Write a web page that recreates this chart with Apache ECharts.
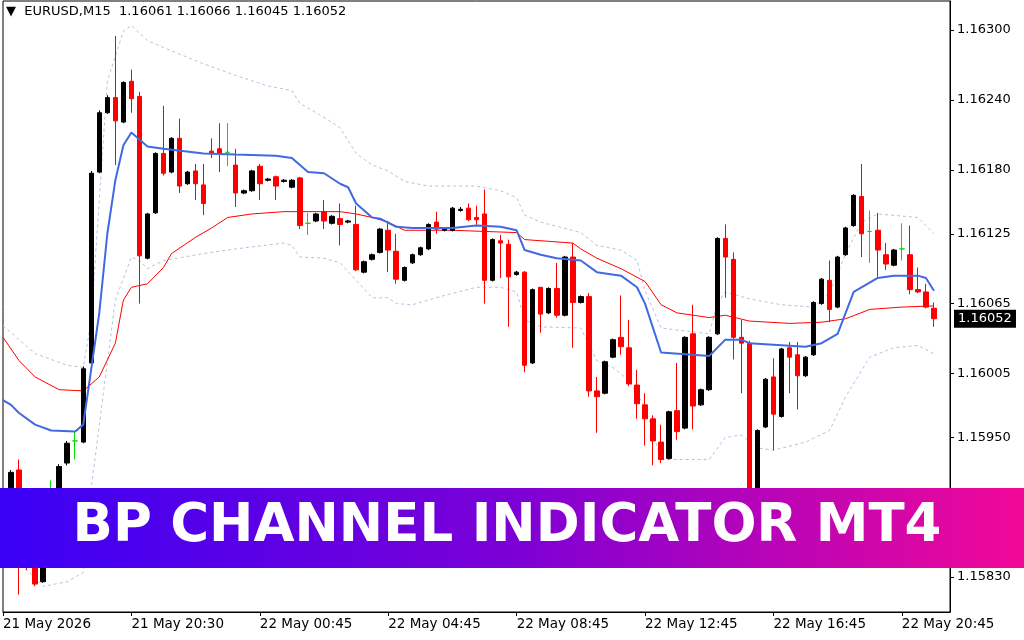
<!DOCTYPE html>
<html><head><meta charset="utf-8">
<script src="https://cdn.jsdelivr.net/npm/echarts@6/dist/echarts.min.js"></script>
<style>html,body{margin:0;padding:0;background:#fff}#c{width:1024px;height:640px}</style>
</head><body><div id="c"></div>
<script>
// candles: [open, close, low, high], bars 1..116 (bar 0 empty)
const candles = [
[1.15896,1.15920,1.15892,1.15922],[1.15922,1.15858,1.15815,1.15931],[1.15858,1.15845,1.15836,1.15862],
[1.15845,1.15824,1.15822,1.15853],[1.15826,1.15862,1.15825,1.15866],[1.15888,1.15888,1.15871,1.15913],
[1.15896,1.15925,1.15892,1.15927],[1.15928,1.15945,1.15926,1.15947],[1.15947,1.15947,1.15931,1.15955],
[1.15946,1.16009,1.15945,1.16011],[1.16014,1.16177,1.16012,1.16179],[1.16178,1.16229,1.16177,1.16231],
[1.16229,1.16242,1.16228,1.16244],[1.16242,1.16222,1.16184,1.16295],[1.16221,1.16255,1.16220,1.16256],
[1.16256,1.16241,1.16229,1.16266],[1.16243,1.16106,1.16065,1.16247],[1.16104,1.16142,1.16103,1.16143],
[1.16143,1.16194,1.16142,1.16195],[1.16194,1.16177,1.16175,1.16235],[1.16178,1.16207,1.16177,1.16208],
[1.16207,1.16166,1.16160,1.16224],[1.16168,1.16178,1.16167,1.16179],[1.16179,1.16168,1.16154,1.16185],
[1.16167,1.16151,1.16141,1.16185],[1.16196,1.16194,1.16190,1.16207],[1.16198,1.16194,1.16178,1.16220],
[1.16195,1.16195,1.16183,1.16220],[1.16184,1.16160,1.16148,1.16198],[1.16160,1.16162,1.16159,1.16163],
[1.16162,1.16179,1.16161,1.16180],[1.16183,1.16168,1.16154,1.16185],[1.16171,1.16172,1.16170,1.16173],
[1.16174,1.16166,1.16154,1.16175],[1.16170,1.16171,1.16169,1.16172],[1.16165,1.16171,1.16164,1.16172],
[1.16173,1.16132,1.16129,1.16174],[1.16134,1.16134,1.16124,1.16143],[1.16136,1.16142,1.16135,1.16143],
[1.16144,1.16136,1.16129,1.16154],[1.16134,1.16140,1.16133,1.16141],[1.16138,1.16133,1.16115,1.16151],
[1.16135,1.16136,1.16134,1.16137],[1.16133,1.16094,1.16093,1.16149],[1.16092,1.16101,1.16091,1.16102],
[1.16103,1.16107,1.16102,1.16108],[1.16109,1.16129,1.16108,1.16130],[1.16128,1.16111,1.16092,1.16136],
[1.16110,1.16086,1.16082,1.16125],[1.16085,1.16096,1.16084,1.16097],[1.16100,1.16107,1.16099,1.16108],
[1.16107,1.16113,1.16106,1.16114],[1.16112,1.16133,1.16111,1.16134],[1.16135,1.16129,1.16125,1.16144],
[1.16128,1.16129,1.16127,1.16130],[1.16128,1.16147,1.16127,1.16148],[1.16145,1.16146,1.16144,1.16148],
[1.16147,1.16137,1.16136,1.16151],[1.16139,1.16137,1.16132,1.16149],[1.16142,1.16085,1.16065,1.16163],
[1.16085,1.16120,1.16084,1.16121],[1.16119,1.16117,1.16087,1.16124],[1.16116,1.16088,1.16045,1.16120],
[1.16090,1.16092,1.16089,1.16093],[1.16092,1.16012,1.16006,1.16093],[1.16014,1.16077,1.16013,1.16078],
[1.16079,1.16056,1.16040,1.16079],[1.16057,1.16078,1.16056,1.16079],[1.16078,1.16055,1.16053,1.16100],
[1.16055,1.16105,1.16054,1.16106],[1.16105,1.16066,1.16027,1.16117],[1.16066,1.16071,1.16065,1.16072],
[1.16071,1.15990,1.15985,1.16074],[1.15990,1.15985,1.15954,1.16002],[1.15988,1.16015,1.15987,1.16016],
[1.16019,1.16034,1.16018,1.16035],[1.16036,1.16028,1.16021,1.16072],[1.16027,1.15996,1.15994,1.16051],
[1.15995,1.15979,1.15966,1.16008],[1.15978,1.15966,1.15943,1.15988],[1.15966,1.15947,1.15926,1.15969],
[1.15946,1.15931,1.15928,1.15961],[1.15932,1.15972,1.15931,1.15973],[1.15973,1.15955,1.15948,1.16014],
[1.15958,1.16036,1.15957,1.16037],[1.16039,1.15977,1.15957,1.16064],[1.15978,1.15991,1.15977,1.15992],
[1.15991,1.16036,1.15990,1.16037],[1.16039,1.16121,1.16038,1.16122],[1.16121,1.16105,1.16070,1.16133],
[1.16103,1.16036,1.16017,1.16109],[1.16036,1.16031,1.15988,1.16051],[1.16031,1.15883,1.15875,1.16033],
[1.15900,1.15956,1.15896,1.15957],[1.15959,1.16000,1.15958,1.16001],[1.16002,1.15970,1.15939,1.16018],
[1.15968,1.16026,1.15967,1.16027],[1.16027,1.16019,1.15988,1.16032],[1.16021,1.16003,1.15974,1.16032],
[1.16003,1.16019,1.16002,1.16020],[1.16021,1.16066,1.16020,1.16067],[1.16065,1.16086,1.16064,1.16087],
[1.16085,1.16060,1.16049,1.16102],[1.16062,1.16105,1.16061,1.16106],[1.16107,1.16130,1.16106,1.16131],
[1.16132,1.16158,1.16131,1.16159],[1.16157,1.16125,1.16105,1.16185],[1.16127,1.16127,1.16100,1.16145],
[1.16128,1.16111,1.16088,1.16143],[1.16107,1.16099,1.16094,1.16117],[1.16098,1.16111,1.16097,1.16112],
[1.16112,1.16112,1.16102,1.16134],[1.16107,1.16077,1.16073,1.16132],[1.16077,1.16075,1.16074,1.16096],
[1.16075,1.16062,1.16061,1.16082],[1.16061,1.16052,1.16045,1.16066]
];
// indicator lines: [bar index, price]
const fastLine = [[0,1.15982],[1,1.15978],[2,1.15971],[4,1.15961],[6,1.15956],[9,1.15955],[10,1.15961],[12,1.16057],[13,1.16125],[14,1.16171],[15,1.16201],[16,1.16212],[18,1.16200],[20,1.16198],[25,1.16194],[29,1.16193],[34,1.16192],[36,1.16190],[38,1.16178],[40,1.16177],[42,1.16168],[43,1.16165],[44,1.16151],[46,1.16139],[47,1.16138],[49,1.16131],[51,1.16130],[56,1.16130],[59,1.16132],[62,1.16131],[64,1.16128],[65,1.16111],[67,1.16107],[69,1.16104],[72,1.16102],[74,1.16092],[77,1.16089],[79,1.16079],[80,1.16065],[82,1.16023],[88,1.16020],[90,1.16034],[92,1.16034],[93,1.16031],[100,1.16028],[102,1.16031],[104,1.16039],[106,1.16075],[109,1.16087],[111,1.16089],[114,1.16089],[115,1.16087],[116,1.16076]];
const midLine = [[0,1.16036],[2,1.16016],[4,1.16002],[7,1.15991],[10,1.15990],[12,1.16002],[14,1.16031],[15,1.16068],[16,1.16079],[18,1.16082],[20,1.16096],[21,1.16108],[24,1.16122],[26,1.16130],[28,1.16139],[31,1.16142],[35,1.16144],[42,1.16144],[44,1.16142],[46,1.16139],[48,1.16135],[50,1.16128],[56,1.16128],[60,1.16127],[64,1.16126],[65,1.16120],[71,1.16117],[72,1.16112],[74,1.16104],[77,1.16095],[80,1.16084],[82,1.16064],[84,1.16057],[88,1.16053],[90,1.16055],[93,1.16050],[98,1.16048],[102,1.16049],[105,1.16052],[108,1.16060],[112,1.16062],[116,1.16063]];
const upperBand = [[0,1.16046],[4,1.16022],[8,1.16012],[10,1.16010],[11,1.16051],[12,1.16154],[13,1.16256],[15,1.16299],[16,1.16304],[18,1.16291],[20,1.16285],[25,1.16271],[29,1.16261],[33,1.16252],[36,1.16248],[37,1.16237],[40,1.16225],[42,1.16216],[44,1.16194],[46,1.16184],[48,1.16179],[50,1.16170],[53,1.16166],[59,1.16166],[62,1.16162],[64,1.16156],[65,1.16141],[67,1.16135],[72,1.16126],[74,1.16115],[77,1.16111],[79,1.16102],[80,1.16076],[82,1.16044],[88,1.16039],[89,1.16065],[90,1.16075],[93,1.16069],[97,1.16064],[101,1.16062],[103,1.16074],[105,1.16108],[107,1.16135],[109,1.16142],[114,1.16139],[116,1.16125]];
const lowerBand = [[0,1.15845],[3,1.15836],[5,1.15822],[8,1.15826],[10,1.15834],[11,1.15907],[14,1.16068],[16,1.16105],[17,1.16102],[18,1.16095],[20,1.16102],[25,1.16108],[29,1.16112],[35,1.16117],[36,1.16115],[37,1.16105],[40,1.16104],[42,1.16100],[46,1.16070],[48,1.16070],[49,1.16065],[51,1.16064],[55,1.16072],[59,1.16079],[62,1.16079],[64,1.16075],[65,1.16051],[67,1.16045],[72,1.16044],[74,1.16016],[76,1.16010],[78,1.15999],[80,1.15976],[82,1.15931],[88,1.15931],[90,1.15950],[92,1.15952],[94,1.15941],[96,1.15939],[100,1.15946],[103,1.15956],[105,1.15985],[108,1.16019],[111,1.16027],[114,1.16029],[116,1.16022]];
const yTicks = [1.16300,1.16240,1.16180,1.16125,1.16065,1.16005,1.15950,1.15890,1.15830];
const timeLabels = {0:'21 May 2026',16:'21 May 20:30',32:'22 May 00:45',48:'22 May 04:45',64:'22 May 08:45',80:'22 May 12:45',96:'22 May 16:45',112:'22 May 20:45'};
const NBARS = 119;
const lastPrice = 1.16052;

const cats = Array.from({length:NBARS},(_,i)=>String(i));
const cdata = [];
for (let i=0;i<NBARS;i++){
  const c = (i>=1 && i<=candles.length) ? candles[i-1] : null;
  if(!c){cdata.push('-');continue;}
  if(c[0]===c[1]) cdata.push({value:c,itemStyle:{color:'#00e000',borderColor:'#00e000',borderColorDoji:'#00e000'}});
  else cdata.push(c);
}
const chart = echarts.init(document.getElementById('c'));
const font = 'DejaVu Sans';
chart.setOption({
  animation:false,
  backgroundColor:'#fff',
  grid:{left:3,right:74,top:1,bottom:28,show:true,borderColor:'#000',borderWidth:1},
  xAxis:{type:'category',data:cats,boundaryGap:false,
    axisLine:{show:true,lineStyle:{color:'#000'}},
    axisTick:{show:true,length:4,lineStyle:{color:'#000'},interval:(i)=>timeLabels[i]!==undefined},
    axisLabel:{interval:(i)=>timeLabels[i]!==undefined,formatter:(v,i)=>timeLabels[i]||'',color:'#000',fontFamily:font,fontSize:13.5,align:'left',margin:5},
    splitLine:{show:false}},
  yAxis:{type:'value',position:'right',min:1.158,max:1.16325,
    axisLine:{show:true,lineStyle:{color:'#000'}},
    axisTick:{show:true,length:4,lineStyle:{color:'#000'},customValues:yTicks},
    axisLabel:{customValues:yTicks,formatter:(v)=>v.toFixed(5),color:'#000',fontFamily:font,fontSize:13,margin:7},
    splitLine:{show:false}},
  series:[
    {type:'line',data:upperBand,symbol:'none',lineStyle:{color:'#b0c4de',width:1,type:[3,3]},z:2,silent:true},
    {type:'line',data:lowerBand,symbol:'none',lineStyle:{color:'#b0c4de',width:1,type:[3,3]},z:2,silent:true},
    {type:'line',data:midLine,symbol:'none',lineStyle:{color:'#ff0000',width:1},z:3,silent:true},
    {type:'candlestick',data:cdata,barWidth:5,z:4,
      itemStyle:{color:'#000',color0:'#ff0000',borderColor:'#000',borderColor0:'#ff0000',borderWidth:1}},
    {type:'line',data:fastLine,symbol:'none',lineStyle:{color:'#4169e1',width:2},z:5,silent:true}
  ]
});
const py = chart.convertToPixel({yAxisIndex:0}, lastPrice);
chart.setOption({graphic:[
  {id:'hdr',type:'text',left:6,top:5,style:{text:'▼  EURUSD,M15  1.16061 1.16066 1.16045 1.16052',fill:'#000',font:'13px "DejaVu Sans"'}},
  {id:'pbox',type:'rect',shape:{x:954,y:py-9,width:62,height:18},style:{fill:'#000'},z:50},
  {id:'ptxt',type:'text',x:958,y:py,z:51,style:{text:lastPrice.toFixed(5),fill:'#fff',font:'13px "DejaVu Sans"',verticalAlign:'middle'}},
  {id:'band',type:'rect',shape:{x:0,y:488,width:1024,height:80},z:100,
    style:{fill:new echarts.graphic.LinearGradient(0,0,1,0,[{offset:0,color:'#3a00f6'},{offset:0.5,color:'#7c00d6'},{offset:1,color:'#f20898'}])}},
  {id:'btxt',type:'text',x:507,y:527,z:101,style:{text:'BP CHANNEL INDICATOR MT4',fill:'#fff',font:'bold 53px "DejaVu Sans"',align:'center',verticalAlign:'middle'}}
]});
</script></body></html>
